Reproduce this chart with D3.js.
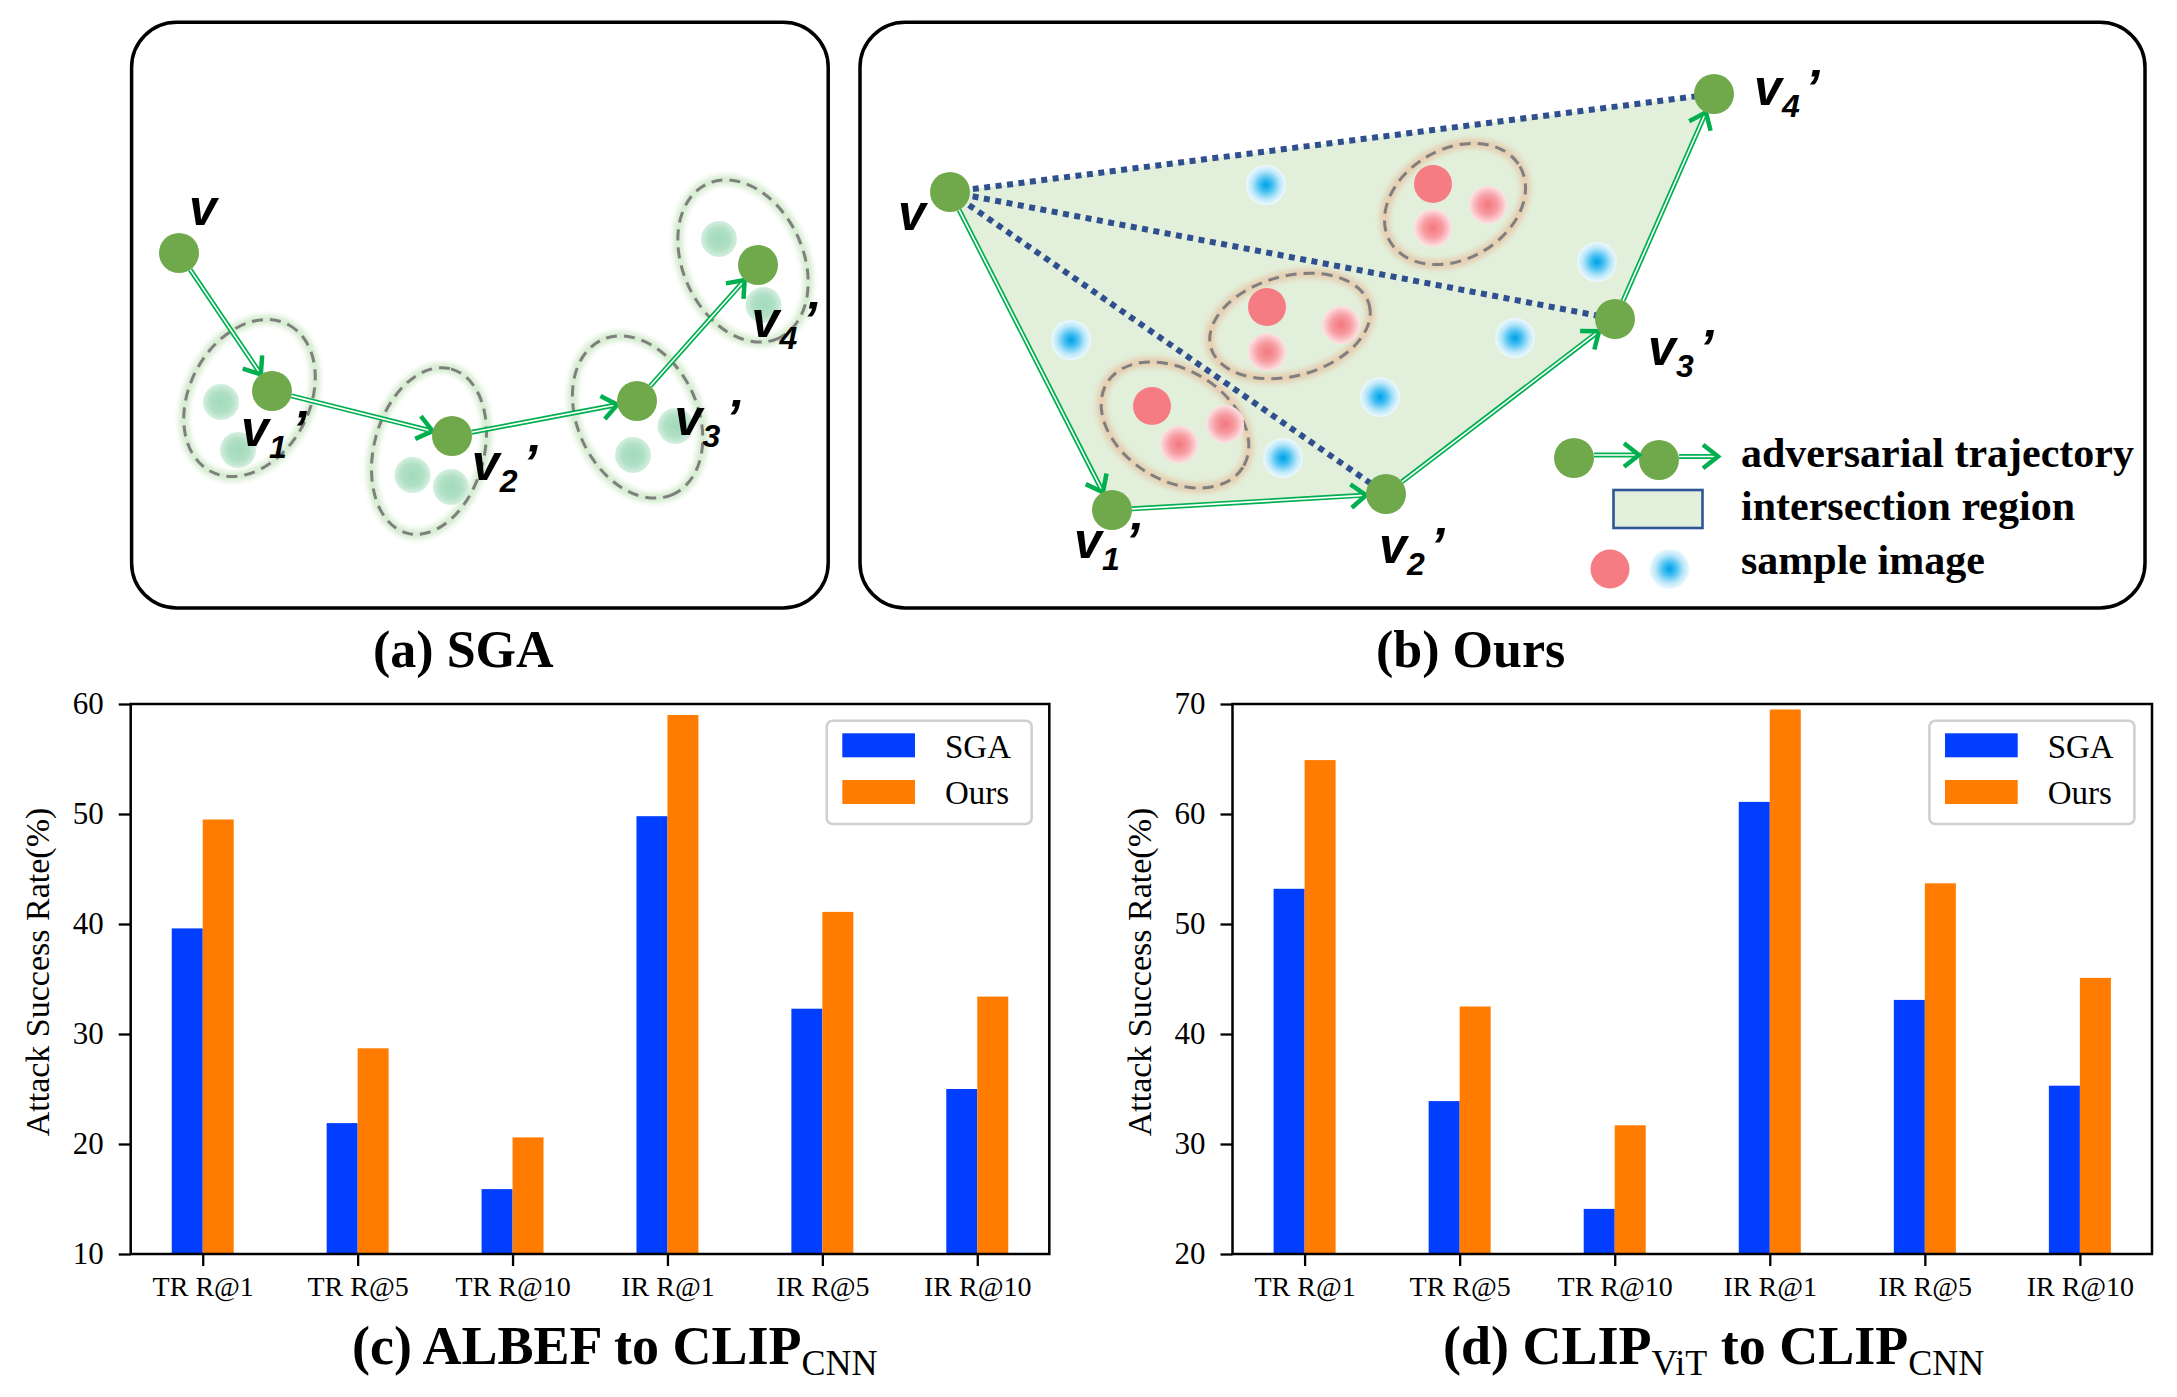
<!DOCTYPE html>
<html><head><meta charset="utf-8">
<script src="https://cdn.jsdelivr.net/npm/d3@7"></script>
<style>body{margin:0;background:#fff}svg{display:block}</style>
</head><body>
<script>
// ---------- chart data ----------
const categories = ["TR R@1","TR R@5","TR R@10","IR R@1","IR R@5","IR R@10"];
const seriesNames = ["SGA","Ours"];
const sgaC  = [39.6, 21.9, 15.9, 49.8, 32.3, 25.0];
const oursC = [49.5, 28.7, 20.6, 59.0, 41.1, 33.4];
const sgaD  = [53.2, 33.9, 24.1, 61.1, 43.1, 35.3];
const oursD = [64.9, 42.5, 31.7, 69.5, 53.7, 45.1];
const yTicksC = [10,20,30,40,50,60];
const yTicksD = [20,30,40,50,60,70];
const yLabel = "Attack Success Rate(%)";
const legendBText = ["adversarial trajectory","intersection region","sample image"];
const colors = ["#023eff","#ff7c00"];

const W=2177,H=1397;
const svg=d3.select("body").append("svg").attr("width",W).attr("height",H).attr("viewBox",`0 0 ${W} ${H}`);
const defs=svg.append("defs");
function radial(id,stops){const g=defs.append("radialGradient").attr("id",id);stops.forEach(([o,c])=>g.append("stop").attr("offset",o).attr("stop-color",c));}
radial("gBlue",[["0%","#00a0e8"],["30%","#3cbcf1"],["70%","#b8e6f9"],["100%","#eef9fe"]]);
radial("gPink",[["0%","#f4767e"],["50%","#f79ba1"],["100%","#fde3e5"]]);
radial("gGreen",[["0%","#a2dabb"],["60%","#b0e0c5"],["100%","#d5efe0"]]);
const flt=defs.append("filter").attr("id","blur").attr("x","-30%").attr("y","-30%").attr("width","160%").attr("height","160%");
flt.append("feGaussianBlur").attr("stdDeviation",2.5);

const SERIF="'Liberation Serif','Times New Roman',serif";
const SANS="'Liberation Sans',Arial,sans-serif";
const NODE="#70a94b", ARROW="#00b050";

// ---------- helpers for diagrams ----------
function arrow(g,p1,p2,r1,r2){
  const dx=p2[0]-p1[0],dy=p2[1]-p1[1],L=Math.hypot(dx,dy),ux=dx/L,uy=dy/L;
  const s=[p1[0]+ux*r1,p1[1]+uy*r1], t=[p2[0]-ux*r2,p2[1]-uy*r2];
  const e=[t[0]-ux*3,t[1]-uy*3];
  g.append("line").attr("x1",s[0]).attr("y1",s[1]).attr("x2",e[0]).attr("y2",e[1]).attr("stroke",ARROW).attr("stroke-width",5);
  g.append("line").attr("x1",s[0]).attr("y1",s[1]).attr("x2",e[0]).attr("y2",e[1]).attr("stroke","#fff").attr("stroke-width",1.6);
  const a=38*Math.PI/180,len=19;
  const rot=(ang)=>[ -(ux*Math.cos(ang)-uy*Math.sin(ang))*len, -(ux*Math.sin(ang)+uy*Math.cos(ang))*len];
  const A=rot(a),B=rot(-a);
  g.append("path").attr("d",`M${t[0]+A[0]},${t[1]+A[1]}L${t[0]},${t[1]}L${t[0]+B[0]},${t[1]+B[1]}`)
    .attr("fill","none").attr("stroke",ARROW).attr("stroke-width",4.5).attr("stroke-linejoin","miter");
}
function label(g,x,base,sub){
  const f=g.append("g").attr("font-family",SANS).attr("font-weight","bold").attr("font-style","italic").attr("fill","#000");
  f.append("text").attr("x",x).attr("y",base).attr("font-size",50).text("v");
  if(sub!==null){
    f.append("text").attr("x",x+28).attr("y",base+12).attr("font-size",32).text(sub);
    f.append("text").attr("x",x+51).attr("y",base+1).attr("font-size",52).text("\u2019");
  }
}
function dashedEllipse(g,e,glow){
  const tr=`translate(${e.cx},${e.cy}) rotate(${e.rot})`;
  g.append("ellipse").attr("transform",tr).attr("rx",e.rx).attr("ry",e.ry).attr("fill","none").attr("stroke",glow).attr("stroke-width",10).attr("filter","url(#blur)");
  g.append("ellipse").attr("transform",tr).attr("rx",e.rx).attr("ry",e.ry).attr("fill","none").attr("stroke","#7f7f7f").attr("stroke-width",3).attr("stroke-dasharray","11,7");
}

// ---------- panel (a) ----------
const gA=svg.append("g");
gA.append("rect").attr("x",131.6).attr("y",22.3).attr("width",696.6).attr("height",585.7).attr("rx",45).attr("fill","#fff").attr("stroke","#000").attr("stroke-width",3.5);
const nodesA=[[179,253],[272,391],[452,436],[637,401],[758,265]];
const ellA=[{cx:249.5,cy:398,rx:83,ry:60,rot:-62},{cx:429,cy:451,rx:85,ry:55,rot:-75},{cx:637.6,cy:417,rx:85,ry:60,rot:65},{cx:743,cy:261,rx:85,ry:60,rot:65}];
const fadedA=[[221,402],[238,450],[412.5,475],[451,487],[675.5,426],[633,455],[719,239],[763.5,305]];
ellA.forEach(e=>dashedEllipse(gA,e,"#d6ecd0"));
fadedA.forEach(p=>gA.append("circle").attr("cx",p[0]).attr("cy",p[1]).attr("r",18).attr("fill","url(#gGreen)"));
for(let i=0;i<4;i++) arrow(gA,nodesA[i],nodesA[i+1],20,20);
nodesA.forEach(p=>gA.append("circle").attr("cx",p[0]).attr("cy",p[1]).attr("r",20).attr("fill",NODE));
label(gA,189,225,null);
label(gA,241,446,"1");label(gA,471.7,480,"2");label(gA,674.6,435,"3");label(gA,751.4,337,"4");

// ---------- panel (b) ----------
const gB=svg.append("g");
gB.append("rect").attr("x",860).attr("y",22.3).attr("width",1285).attr("height",585.7).attr("rx",45).attr("fill","#fff").attr("stroke","#000").attr("stroke-width",3.5);
const nodesB=[[950,192],[1112,510],[1386,494],[1615,319],[1714,94]];
gB.append("path").attr("d","M"+nodesB.map(p=>p.join(",")).join("L")+"Z").attr("fill","#e2efda");
const ellB=[{cx:1455,cy:204,rx:75,ry:55,rot:-30},{cx:1290,cy:326,rx:82,ry:50,rot:-15},{cx:1175,cy:425,rx:80,ry:55,rot:32}];
ellB.forEach(e=>dashedEllipse(gB,e,"#e6cfb2"));
const pinkSolid=[[1433,184],[1267,307],[1152,406]];
const pinkFaded=[[1488,205],[1433,228],[1341,325],[1267,352],[1225,424],[1179,444.5]];
const blueDots=[[1266,185],[1071,340],[1597,262],[1515,338],[1380,397],[1283,458]];
pinkFaded.forEach(p=>gB.append("circle").attr("cx",p[0]).attr("cy",p[1]).attr("r",19).attr("fill","url(#gPink)"));
pinkSolid.forEach(p=>gB.append("circle").attr("cx",p[0]).attr("cy",p[1]).attr("r",19).attr("fill","#f67c83"));
blueDots.forEach(p=>gB.append("circle").attr("cx",p[0]).attr("cy",p[1]).attr("r",20).attr("fill","url(#gBlue)"));
[nodesB[4],nodesB[3],nodesB[2]].forEach(p=>gB.append("line").attr("x1",nodesB[0][0]).attr("y1",nodesB[0][1]).attr("x2",p[0]).attr("y2",p[1]).attr("stroke","#2f4f8f").attr("stroke-width",6).attr("stroke-dasharray","6,5.5"));
for(let i=0;i<4;i++) arrow(gB,nodesB[i],nodesB[i+1],20,20);
nodesB.forEach(p=>gB.append("circle").attr("cx",p[0]).attr("cy",p[1]).attr("r",20).attr("fill",NODE));
label(gB,898,230,null);
label(gB,1074,558,"1");label(gB,1379,563,"2");label(gB,1648,365,"3");label(gB,1754,105,"4");
// legend (b)
gB.append("circle").attr("cx",1574).attr("cy",458).attr("r",20).attr("fill",NODE);
gB.append("circle").attr("cx",1659).attr("cy",460).attr("r",20).attr("fill",NODE);
arrow(gB,[1574,455],[1659,455],20,20);
arrow(gB,[1659,456.5],[1738,456.5],20,20);
gB.append("rect").attr("x",1613.5).attr("y",490).attr("width",89).attr("height",38).attr("fill","#e2efda").attr("stroke","#2f5597").attr("stroke-width",2.6);
gB.append("circle").attr("cx",1610).attr("cy",569).attr("r",19.5).attr("fill","#f67c83");
gB.append("circle").attr("cx",1669.5).attr("cy",569).attr("r",20).attr("fill","url(#gBlue)");
[[466.7],[520],[574]].forEach((b,i)=>gB.append("text").attr("x",1741).attr("y",b[0]).attr("font-family",SERIF).attr("font-weight","bold").attr("font-size",42).text(legendBText[i]));

// captions (a)(b)
svg.append("text").attr("x",373).attr("y",667).attr("font-family",SERIF).attr("font-weight","bold").attr("font-size",52).text("(a) SGA");
svg.append("text").attr("x",1376).attr("y",667).attr("font-family",SERIF).attr("font-weight","bold").attr("font-size",52).text("(b) Ours");

// ---------- bar charts ----------
function drawChart(cfg){
  const {left,right,top,bottom,sga,ours,ticks,labelX}=cfg;
  const ydom=[ticks[0],ticks[ticks.length-1]];
  const x=d3.scaleLinear().domain([-0.465,categories.length-1+0.465]).range([left,right]);
  const y=d3.scaleLinear().domain(ydom).range([bottom,top]);
  const g=svg.append("g");
  const bw=0.2;
  [sga,ours].forEach((vals,si)=>{
    g.append("g").selectAll("rect").data(vals).join("rect")
      .attr("x",(d,i)=>x(i+(si===0?-bw:0))).attr("width",x(bw)-x(0))
      .attr("y",d=>y(d)).attr("height",d=>y(ydom[0])-y(d)).attr("fill",colors[si]);
  });
  const xa=g.append("g").attr("transform",`translate(0,${bottom})`)
    .call(d3.axisBottom(x).tickValues(d3.range(categories.length)).tickFormat(i=>categories[i]).tickSize(12).tickPadding(10));
  const ya=g.append("g").attr("transform",`translate(${left},0)`)
    .call(d3.axisLeft(y).tickValues(ticks).tickFormat(d3.format("d")).tickSize(12).tickPadding(15));
  [xa,ya].forEach(a=>{a.select(".domain").remove();a.selectAll("line").attr("stroke","#000").attr("stroke-width",2.3);
    a.selectAll("text").attr("font-family",SERIF).attr("fill","#000");});
  xa.selectAll("text").attr("font-size",28);
  ya.selectAll("text").attr("font-size",31);
  g.append("rect").attr("x",left).attr("y",top).attr("width",right-left).attr("height",bottom-top).attr("fill","none").attr("stroke","#000").attr("stroke-width",2.5);
  g.append("text").attr("transform",`translate(${labelX},${(top+bottom)/2-7}) rotate(-90)`).attr("text-anchor","middle")
    .attr("font-family",SERIF).attr("font-size",34).attr("fill","#000").text(yLabel);
  // legend
  const lx=right-222.6, ly=top+16.7;
  const lg=g.append("g");
  lg.append("rect").attr("x",lx).attr("y",ly).attr("width",205).attr("height",103.3).attr("rx",6).attr("fill","#fff").attr("fill-opacity",0.85).attr("stroke","#d0d0d0").attr("stroke-width",2.6);
  seriesNames.forEach((n,i)=>{
    lg.append("rect").attr("x",lx+15.6).attr("y",ly+12.6+i*46.7).attr("width",72.7).attr("height",24).attr("fill",colors[i]);
    lg.append("text").attr("x",lx+118.3).attr("y",ly+37.6+i*46).attr("font-family",SERIF).attr("font-size",33).attr("fill","#000").text(n);
  });
}
drawChart({left:130.7,right:1049.3,top:704,bottom:1254,sga:sgaC,ours:oursC,ticks:yTicksC,labelX:49});
drawChart({left:1232.5,right:2152,top:704,bottom:1254,sga:sgaD,ours:oursD,ticks:yTicksD,labelX:1151});

// captions (c)(d)
function caption(x,parts){
  const t=svg.append("text").attr("x",x).attr("y",1364).attr("font-family",SERIF).attr("fill","#000");
  let shifted=false;
  parts.forEach(p=>{
    const s=t.append("tspan").text(p.t);
    if(p.sub){s.attr("font-size",36).attr("font-weight","normal").attr("dy",shifted?0:11);shifted=true;}
    else{s.attr("font-size",54).attr("font-weight","bold").attr("dy",shifted?-11:0);shifted=false;}
  });
}
caption(352,[{t:"(c) ALBEF to CLIP"},{t:"CNN",sub:true}]);
caption(1443,[{t:"(d) CLIP"},{t:"ViT",sub:true},{t:" to CLIP"},{t:"CNN",sub:true}]);
</script>
</body></html>
